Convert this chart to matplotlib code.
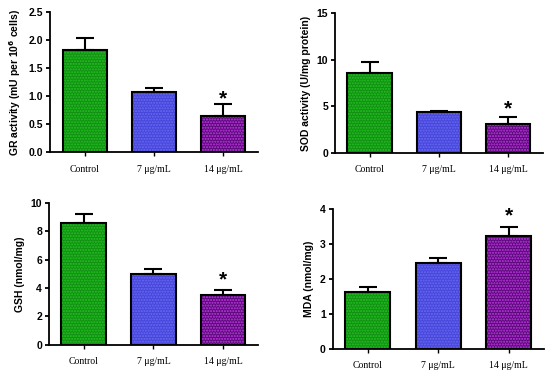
import matplotlib
matplotlib.use("Agg")
import matplotlib.pyplot as plt
import numpy as np

categories = ["Control", "7 \u03bcg/mL", "14 \u03bcg/mL"]

gr_vals = [1.82, 1.07, 0.64]
gr_err = [0.21, 0.08, 0.21]
sod_vals = [8.6, 4.35, 3.15]
sod_err = [1.15, 0.12, 0.65]
gsh_vals = [8.6, 5.0, 3.5]
gsh_err = [0.62, 0.33, 0.36]
mda_vals = [1.62, 2.45, 3.22]
mda_err = [0.15, 0.15, 0.28]

fills = ["#138f13", "#4646dc", "#5a0a78"]
dots = ["#22c322", "#6a6af0", "#c23ae6"]

panels = [
    dict(vals=gr_vals, err=gr_err, ylim=(0, 2.5), yticks=[0.0, 0.5, 1.0, 1.5, 2.0, 2.5],
         fmt="{:.1f}", ylabel=r"GR activity (mU per 10$^{\mathbf{6}}$ cells)",
         pos=[0.091, 0.591, 0.378, 0.377], star=0.95),
    dict(vals=sod_vals, err=sod_err, ylim=(0, 15), yticks=[0, 5, 10, 15],
         fmt="{:d}", ylabel="SOD activity (U/mg protein)",
         pos=[0.609, 0.589, 0.378, 0.376], star=4.7),
    dict(vals=gsh_vals, err=gsh_err, ylim=(0, 10), yticks=[0, 2, 4, 6, 8, 10],
         fmt="{:d}", ylabel="GSH (nmol/mg)",
         pos=[0.089, 0.073, 0.38, 0.381], star=4.55),
    dict(vals=mda_vals, err=mda_err, ylim=(0, 4), yticks=[0, 1, 2, 3, 4],
         fmt="{:d}", ylabel="MDA (nmol/mg)",
         pos=[0.605, 0.062, 0.384, 0.376], star=3.8),
]

fig = plt.figure(figsize=(5.5, 3.72), dpi=100)
x = np.arange(len(categories))
width = 0.64

for p in panels:
    ax = fig.add_axes(p["pos"])
    for i in range(3):
        ax.bar(x[i], p["vals"][i], width=width, color=fills[i], edgecolor=dots[i],
               hatch="......", linewidth=0, zorder=2)
        ax.bar(x[i], p["vals"][i], width=width, facecolor="none", edgecolor="black",
               linewidth=1.5, zorder=3)
    ax.errorbar(x, p["vals"], yerr=[[0, 0, 0], p["err"]], fmt="none", ecolor="black",
                elinewidth=1.5, capsize=6.5, capthick=1.5, zorder=4)
    ax.text(x[2], p["star"], "*", ha="center", va="center", fontsize=15,
            fontweight="bold", family="Liberation Sans")
    ax.set_xlim(-0.5, 2.5)
    ax.set_ylim(*p["ylim"])
    ax.set_yticks(p["yticks"])
    ax.set_yticklabels([p["fmt"].format(v) for v in p["yticks"]], fontsize=7.5,
                       fontweight="bold", family="Liberation Sans")
    ax.set_xticks(x)
    ax.set_xticklabels(categories, fontsize=7, family="Liberation Serif")
    ax.set_ylabel(p["ylabel"], fontsize=7.5, fontweight="bold", family="Liberation Sans",
                  labelpad=4)
    for s in ["top", "right"]:
        ax.spines[s].set_visible(False)
    for s in ["left", "bottom"]:
        ax.spines[s].set_linewidth(1.3)
    ax.tick_params(axis="y", length=3, width=1.3, pad=2)
    ax.tick_params(axis="x", length=3, width=1.0, pad=6)

fig.savefig("out.png", dpi=100)
